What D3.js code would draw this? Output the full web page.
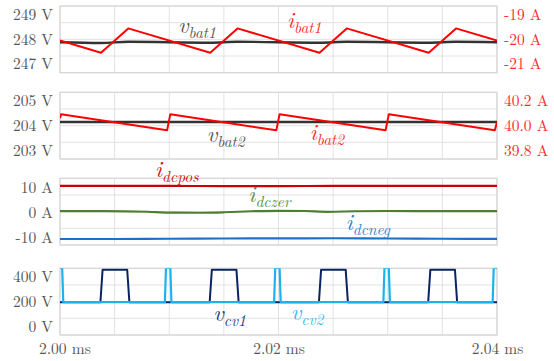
<!DOCTYPE html>
<html><head><meta charset="utf-8">
<script src="https://cdn.jsdelivr.net/npm/d3@7"></script>
<style>
body{margin:0;background:#fff;}
svg{display:block;}
</style></head><body>
<svg id="c" width="554" height="361"></svg>
<script>
// ---------------- data ----------------
const gridTimes = [2.000,2.005,2.010,2.015,2.020,2.025,2.030,2.035,2.040];
const timeTicks = [2.00,2.02,2.04];
const timeTickLabels = ["2.00 ms","2.02 ms","2.04 ms"];

// panel 1
const bat1Time = [2.0000,2.00375,2.00625,2.01375,2.01625,2.02375,2.02625,2.03375,2.03625,2.0400];
const ibat1 = [-20.05,-20.55,-19.55,-20.55,-19.55,-20.55,-19.55,-20.55,-19.55,-20.05];
const vbat1 = [247.88,247.85,247.90,247.86,247.90,247.86,247.90,247.86,247.90,247.88];
const p1LeftTicks = [247,248,249];
const p1LeftLabels = ["247 V","248 V","249 V"];
const p1RightTicks = [-21,-20,-19];
const p1RightLabels = ["-21 A","-20 A","-19 A"];

// panel 2
const ibat2Time = [2.0000,2.0001,2.0098,2.0101,2.0198,2.0201,2.0298,2.0301,2.0398,2.0400];
const ibat2 = [40.06,40.093,39.962,40.093,39.962,40.093,39.962,40.093,39.962,40.03];
const vbat2Time = [2.000,2.010,2.020,2.030,2.040];
const vbat2 = [204.15,204.15,204.15,204.15,204.15];
const p2LeftTicks = [203,204,205];
const p2LeftLabels = ["203 V","204 V","205 V"];
const p2RightTicks = [39.8,40.0,40.2];
const p2RightLabels = ["39.8 A","40.0 A","40.2 A"];

// panel 3
const dcTime = [2.000,2.005,2.010,2.015,2.020,2.025,2.030,2.035,2.040];
const idcpos = [10.7,10.7,10.65,10.6,10.6,10.65,10.7,10.7,10.7];
const idcneg = [-10.6,-10.6,-10.5,-10.4,-10.35,-10.3,-10.4,-10.5,-10.55];
const dczerTime = [2.000,2.004,2.008,2.010,2.0125,2.015,2.0175,2.020,2.0225,2.0245,2.027,2.030,2.035,2.040];
const idczer = [0.6,0.6,0.3,-0.05,-0.1,0.1,0.5,0.7,0.6,0.3,0.5,0.6,0.6,0.6];
const p3LeftTicks = [-10,0,10];
const p3LeftLabels = ["-10 A","0 A","10 A"];

// panel 4
const vcv1Time = [2.0000,2.0037,2.0039,2.00615,2.00635,2.0137,2.0139,2.01615,2.01635,2.0237,2.0239,2.02615,2.02635,2.0337,2.0339,2.03615,2.03635,2.0400];
const vcv1 = [196,196,456,456,196,196,456,456,196,196,456,456,196,196,456,456,196,196];
const vcv2Time = [2.0000,2.0002,2.0003,2.0096,2.0097,2.0101,2.0102,2.0196,2.0197,2.0201,2.0202,2.0296,2.0297,2.0301,2.0302,2.0396,2.0397,2.0400];
const vcv2 = [470,470,196,196,470,470,196,196,470,470,196,196,470,470,196,196,470,470];
const p4LeftTicks = [0,200,400];
const p4LeftLabels = ["0 V","200 V","400 V"];

// ---------------- layout ----------------
const FONT = "'Latin Modern Roman', 'Liberation Serif', serif";
const svg = d3.select("#c");
const X0 = 60, X1 = 497;
const x = d3.scaleLinear().domain([2.00,2.04]).range([X0,X1]);
const panelBoxes = [
  {top:6, bottom:72.7},
  {top:92.3, bottom:159},
  {top:178.3, bottom:245},
  {top:268.3, bottom:335}
];
const FS = 15.5;
const gridColor = "#e2e2e2";

function styleTicks(sel, color){
  sel.attr("font-family",null);
  sel.selectAll("text").attr("font-size",FS).attr("fill",color)
    .style("font-family",FONT);
}

function panel(i, leftDomain, leftTicks, leftLabels, rightDomain, rightTicks, rightLabels, rightColor){
  const b = panelBoxes[i];
  const g = svg.append("g");
  const yL = d3.scaleLinear().domain(leftDomain).range([b.bottom,b.top]);
  const yR = rightDomain ? d3.scaleLinear().domain(rightDomain).range([b.bottom,b.top]) : null;
  const gy = d3.scaleLinear().domain([0,4]).range([b.bottom,b.top]);
  g.append("g").selectAll("line").data(d3.range(5)).join("line")
    .attr("x1",X0).attr("x2",X1).attr("y1",d=>gy(d)).attr("y2",d=>gy(d))
    .attr("stroke",gridColor).attr("stroke-width",1);
  g.append("g").selectAll("line").data(gridTimes).join("line")
    .attr("x1",d=>x(d)).attr("x2",d=>x(d)).attr("y1",b.top).attr("y2",b.bottom)
    .attr("stroke",gridColor).attr("stroke-width",1);
  g.append("rect").attr("x",X0).attr("y",b.top).attr("width",X1-X0).attr("height",b.bottom-b.top)
    .attr("fill","none").attr("stroke","#d6d6d6").attr("stroke-width",1.2);
  const ax = g.append("g").attr("transform",`translate(${X0},0)`)
    .call(d3.axisLeft(yL).tickValues(leftTicks).tickFormat((d,k)=>leftLabels[k]).tickSize(0).tickPadding(7));
  ax.select(".domain").remove();
  styleTicks(ax,"#555");
  if(yR){
    const ar = g.append("g").attr("transform",`translate(${X1},0)`)
      .call(d3.axisRight(yR).tickValues(rightTicks).tickFormat((d,k)=>rightLabels[k]).tickSize(0).tickPadding(7));
    ar.select(".domain").remove();
    styleTicks(ar,rightColor);
  }
  const cid = "clip"+i;
  svg.append("clipPath").attr("id",cid).append("rect")
    .attr("x",X0).attr("y",b.top).attr("width",X1-X0).attr("height",b.bottom-b.top);
  const plot = g.append("g").attr("clip-path",`url(#${cid})`);
  return {g, plot, yL, yR};
}

function drawLine(plot, y, times, vals, color, width, curve){
  const line = d3.line().x((d,k)=>x(times[k])).y(d=>y(d)).curve(curve||d3.curveLinear);
  plot.append("path").datum(vals).attr("d",line).attr("fill","none")
    .attr("stroke",color).attr("stroke-width",width).attr("stroke-linejoin","round");
}

function label(t, y, v, main, sub, color){
  const txt = svg.append("text").attr("x",x(t)).attr("y",y(v)).attr("fill",color)
    .style("font-style","italic").style("font-family",FONT);
  txt.append("tspan").attr("font-size",23).text(main);
  txt.append("tspan").attr("font-size",15.5).attr("dy",5).text(sub);
}

// panel 1
const P1 = panel(0,[246.63,249.37],p1LeftTicks,p1LeftLabels,[-21.37,-18.63],p1RightTicks,p1RightLabels,"#ff2a2a");
drawLine(P1.plot,P1.yL,bat1Time,vbat1,"#333",2.4,d3.curveMonotoneX);
drawLine(P1.plot,P1.yR,bat1Time,ibat1,"#ff0000",2);
label(2.0108,P1.yL,248.25,"v","bat1","#555");
label(2.02078,P1.yR,-19.55,"i","bat1","#ff2a2a");

// panel 2
const P2 = panel(1,[202.65,205.35],p2LeftTicks,p2LeftLabels,[39.73,40.27],p2RightTicks,p2RightLabels,"#ff2a2a");
drawLine(P2.plot,P2.yL,vbat2Time,vbat2,"#333",2.4);
drawLine(P2.plot,P2.yR,ibat2Time,ibat2,"#ff0000",2);
label(2.01343,P2.yL,203.32,"v","bat2","#555");
label(2.02286,P2.yR,39.884,"i","bat2","#ff2a2a");

// panel 3
const P3 = panel(2,[-13,13.7],p3LeftTicks,p3LeftLabels,null);
drawLine(P3.plot,P3.yL,dcTime,idcpos,"#cc0000",2.2,d3.curveMonotoneX);
drawLine(P3.plot,P3.yL,dczerTime,idczer,"#4e7f2e",2.2,d3.curveMonotoneX);
drawLine(P3.plot,P3.yL,dcTime,idcneg,"#1f6fc5",2.2,d3.curveMonotoneX);
label(2.0087,P3.yL,14.3,"i","dcpos","#cc1111");
label(2.01724,P3.yL,4.3,"i","dczer","#5a8a3a");
label(2.02615,P3.yL,-7,"i","dcneg","#2b7fd0");

// panel 4
const P4 = panel(3,[-66.7,466.7],p4LeftTicks,p4LeftLabels,null);
drawLine(P4.plot,P4.yL,vcv1Time,vcv1,"#0a2463",2);
drawLine(P4.plot,P4.yL,vcv2Time,vcv2,"#1cb2ee",2.2);
label(2.01403,P4.yL,44.8,"v","cv1","#1a3a80");
label(2.02112,P4.yL,52.8,"v","cv2","#33bbee");

// x axis
const xa = svg.append("g").attr("transform",`translate(0,${panelBoxes[3].bottom})`)
  .call(d3.axisBottom(x).tickValues(timeTicks).tickFormat((d,k)=>timeTickLabels[k]).tickSize(0).tickPadding(8));
xa.select(".domain").remove();
styleTicks(xa,"#555");
xa.selectAll(".tick text").each(function(){
  const w = this.getComputedTextLength();
  const tx = +d3.select(this.parentNode).attr("transform").match(/translate\(([-\d.]+)/)[1];
  if(tx - w/2 < 39){ d3.select(this).attr("dx", 39 + w/2 - tx); }
});
</script>
</body></html>
